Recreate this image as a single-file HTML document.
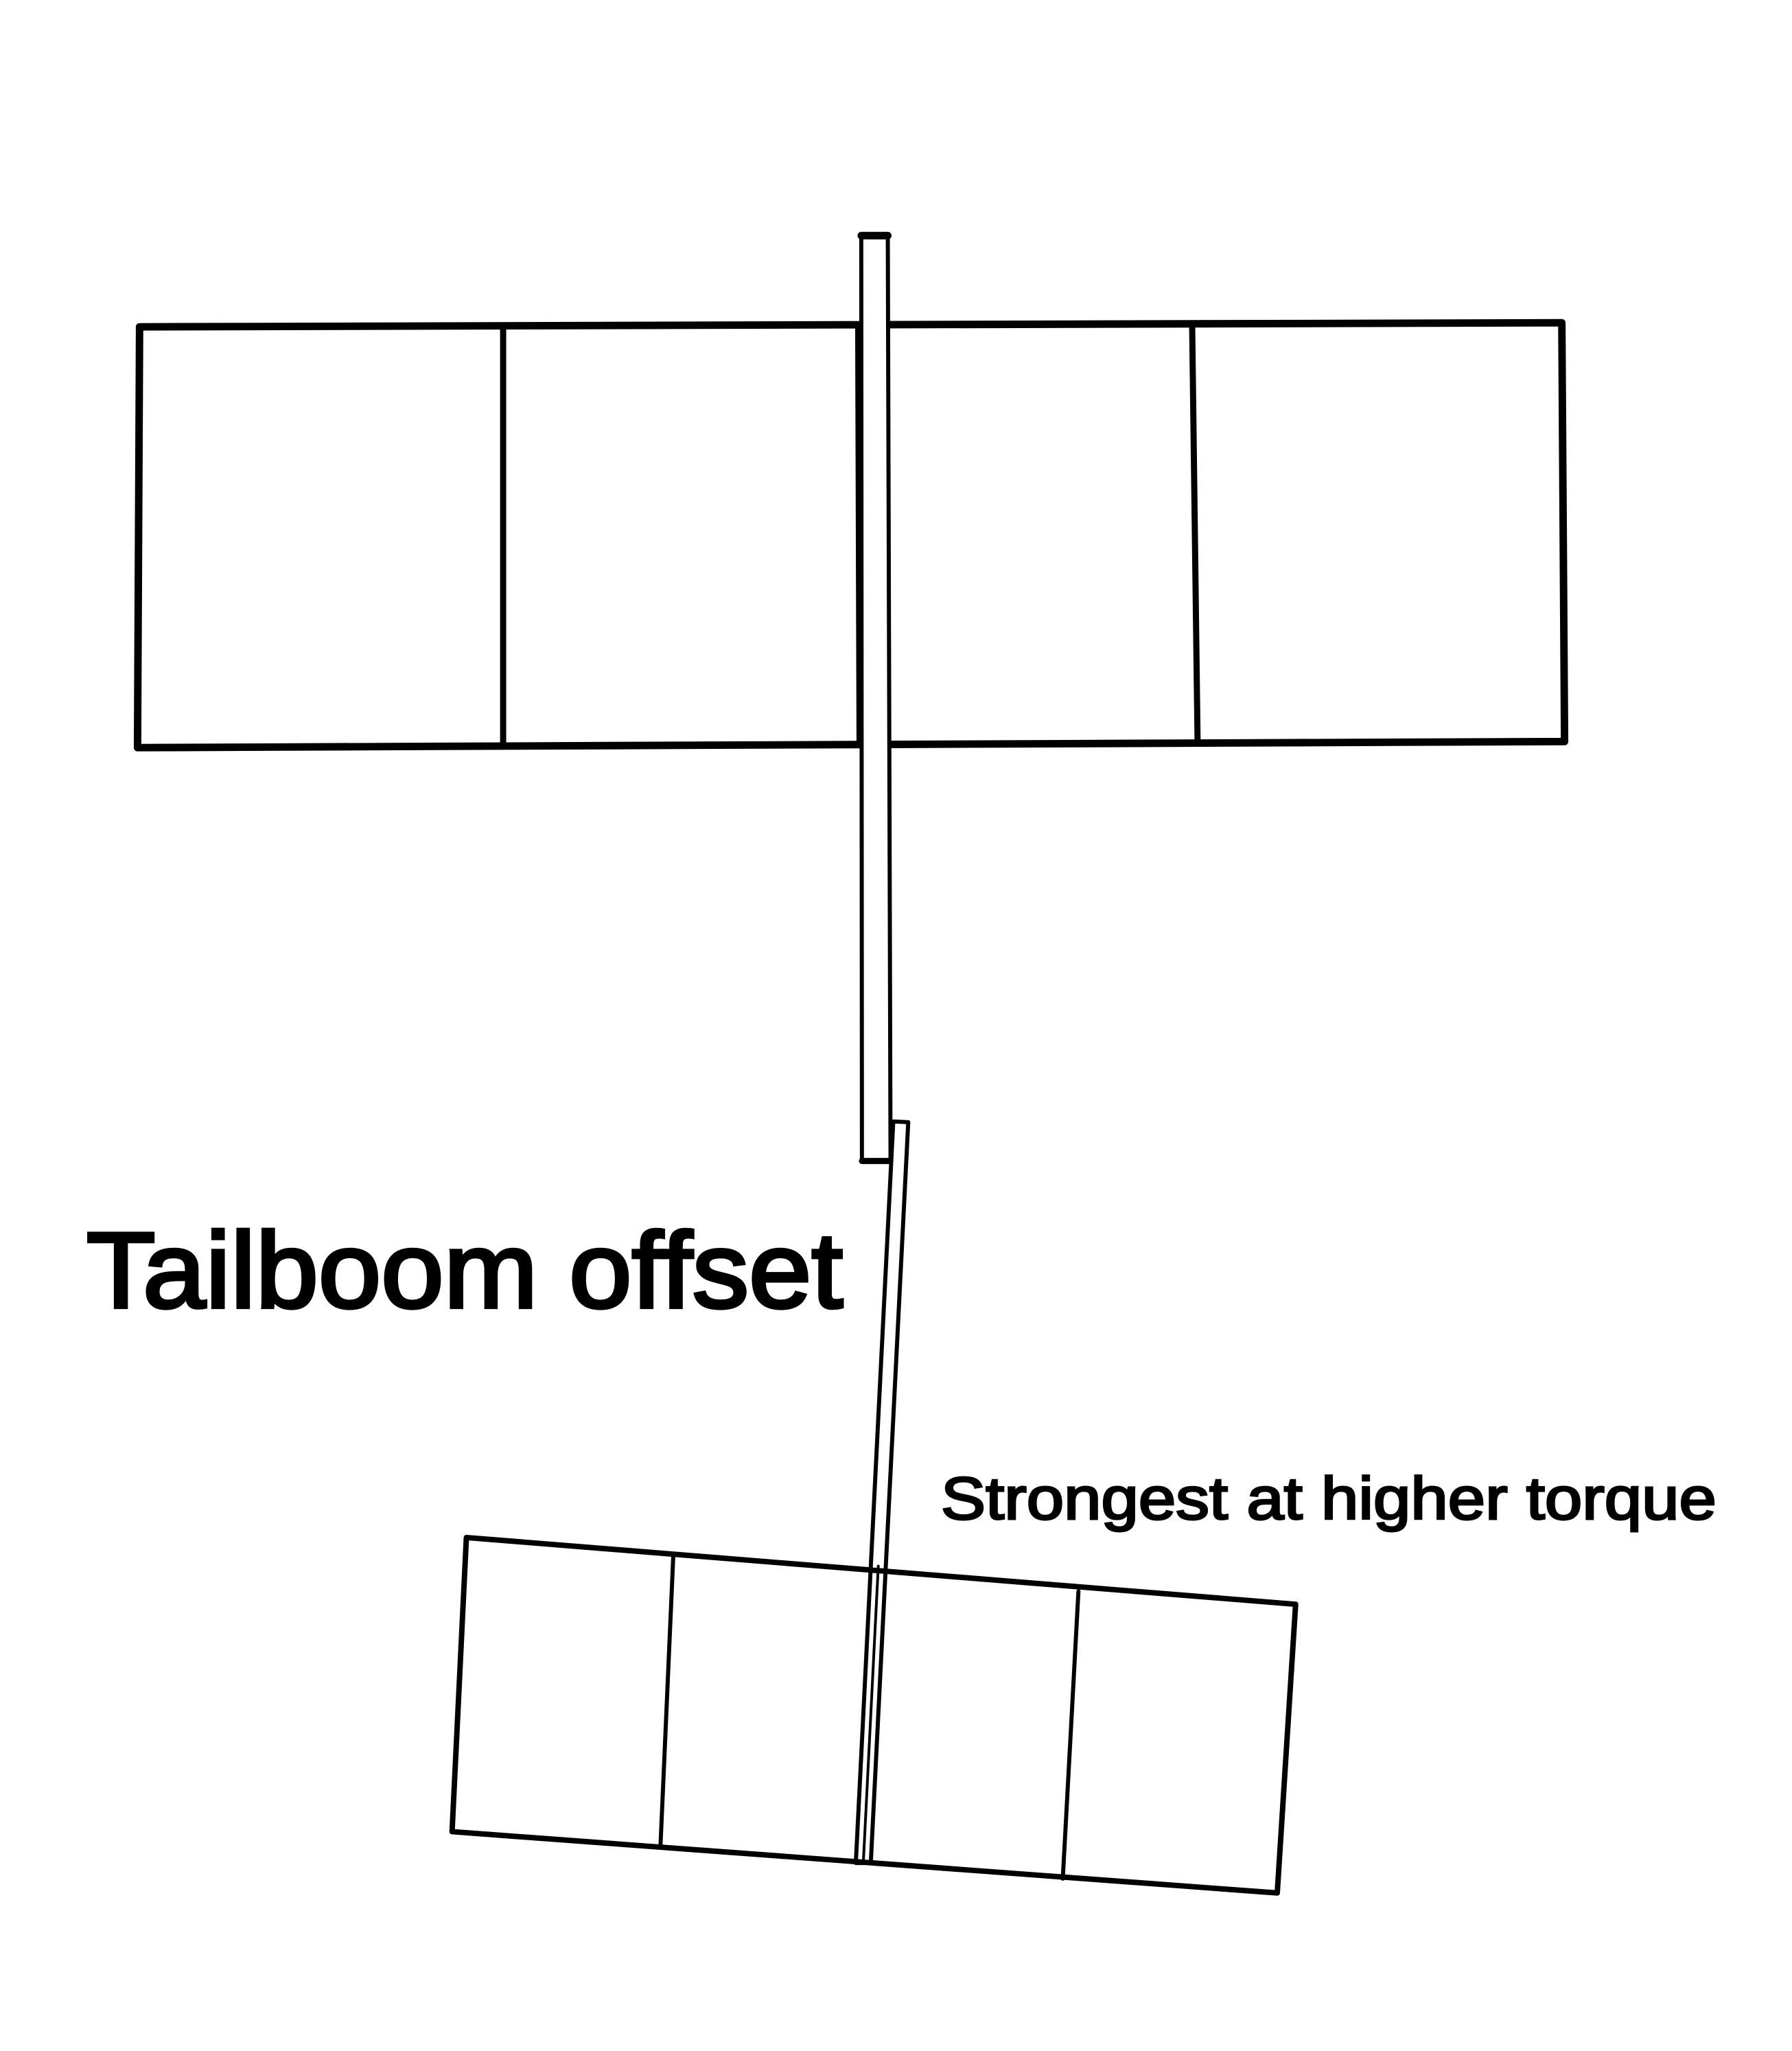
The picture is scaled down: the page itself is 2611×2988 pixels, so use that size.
<!DOCTYPE html>
<html><head><style>html,body{margin:0;padding:0;background:#fff}svg{display:block}</style></head>
<body>
<svg width="2611" height="2988" viewBox="0 0 2611 2988" xmlns="http://www.w3.org/2000/svg">
<rect width="2611" height="2988" fill="#fff"/>
<g transform="scale(0.992)">
<g fill="none" stroke="#000" stroke-linecap="round" stroke-linejoin="round">
<path d="M205 480 L2294 474 L2298 1089 L202 1098 Z" stroke-width="11"/>
<line x1="739" y1="479" x2="739" y2="1096" stroke-width="9"/>
<line x1="1261" y1="478" x2="1263" y2="1094" stroke-width="10"/>
<line x1="1751" y1="476" x2="1759" y2="1091" stroke-width="9"/>
<path d="M1265 346 L1304 346 L1308 1705 L1266 1705 Z" stroke-width="6" fill="#fff"/>
<line x1="1265" y1="346" x2="1304" y2="346" stroke-width="11"/>
<line x1="1266" y1="1705" x2="1306" y2="1705" stroke-width="9"/>
<path d="M1312 1647 L1334 1648 L1279 2736 L1257 2736 Z" stroke-width="6" fill="#fff"/>
<line x1="1268" y1="2736" x2="1290" y2="2300" stroke-width="4"/>
<path d="M685 2258 L1903 2356 L1876 2780 L664 2690 Z" stroke-width="8"/>
<line x1="989" y1="2283" x2="970" y2="2713" stroke-width="6"/>
<line x1="1584" y1="2337" x2="1561" y2="2759" stroke-width="6"/>
</g>
<text x="127" y="1920" font-family="Liberation Sans, sans-serif" font-size="158" textLength="1111" lengthAdjust="spacingAndGlyphs" fill="#000" stroke="#000" stroke-width="5">Tailboom offset</text>
<text x="1382" y="2231" font-family="Liberation Sans, sans-serif" font-size="88" textLength="1139" lengthAdjust="spacingAndGlyphs" fill="#000" stroke="#000" stroke-width="3">Strongest at higher torque</text>
</g>
</svg>
</body></html>
